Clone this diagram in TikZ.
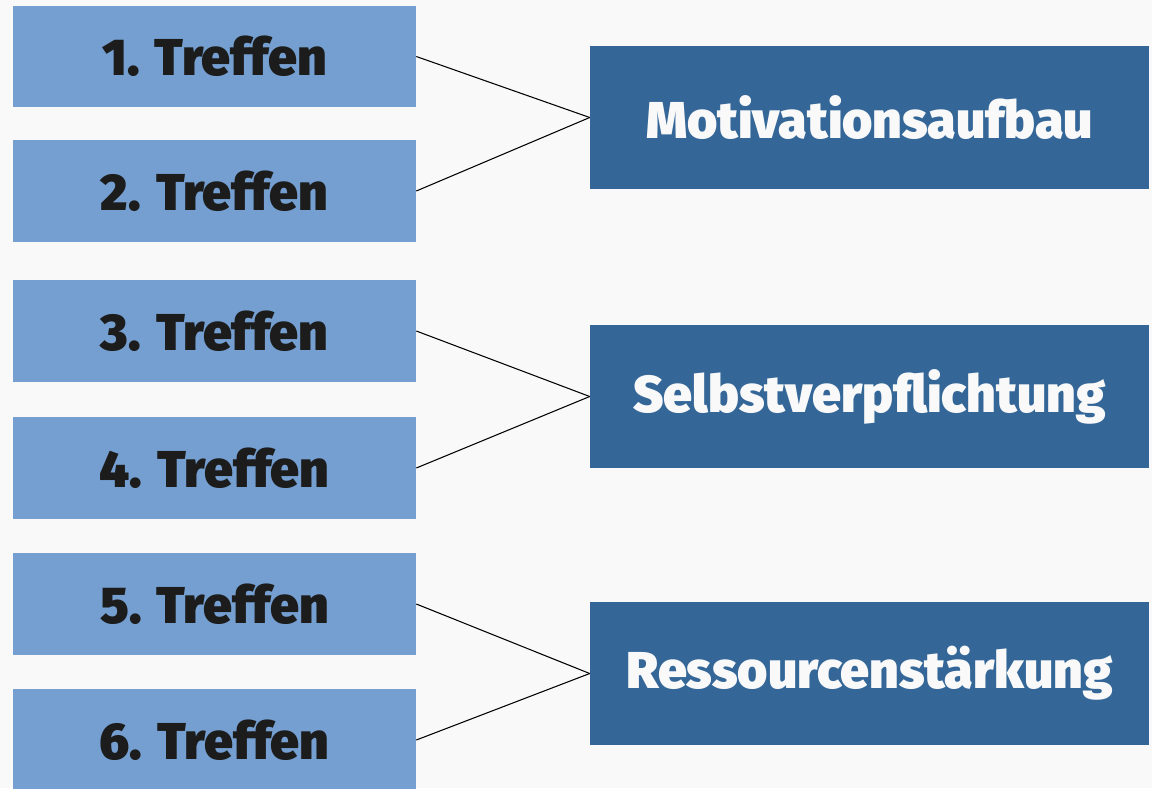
\documentclass[tikz,border=0pt]{standalone}
\usepackage{fontspec}
\setmainfont{Fira Sans}[BoldFont={Fira Sans Black}]
\definecolor{treffenblue}{RGB}{116,159,208}
\definecolor{zielblue}{RGB}{52,103,152}
\definecolor{pagegray}{RGB}{249,249,249}
\definecolor{textdark}{RGB}{28,28,28}
\begin{document}
\begin{tikzpicture}[x=0.02cm,y=-0.02cm]

      \fill[pagegray] (0,0) rectangle (1152,788);
      \useasboundingbox (0,0) rectangle (1152,788);

      \begin{scope}[every node/.style={rectangle, fill=treffenblue, inner sep=0pt,
          minimum width=8.06cm, minimum height=2.04cm, text=textdark,
          font=\fontsize{29.5}{32}\selectfont\bfseries}]
        \node (1) at (214.5,56.5) {1. Treffen};
        \node (2) at (214.5,191)  {2. Treffen};
        \node (3) at (214.5,331)  {3. Treffen};
        \node (4) at (214.5,468)  {4. Treffen};
        \node (5) at (214.5,604)  {5. Treffen};
        \node (6) at (214.5,740)  {6. Treffen};
      \end{scope}

      \begin{scope}[every node/.style={rectangle, fill=zielblue, inner sep=0pt,
          minimum width=11.18cm, minimum height=2.86cm, text=pagegray,
          font=\fontsize{29.5}{32}\selectfont\bfseries}]
        \node (m) at (869.5,117.5) {Motivationsaufbau};
        \node (s) at (869.5,396.5) {Selbstverpflichtung};
        \node (r) at (869.5,673.5) {Ressourcenstärkung};
      \end{scope}

      \begin{scope}[every edge/.style={draw, black, line width=0.6pt}]
        \path (1.east) edge (m.west);
        \path (2.east) edge (m.west);
        \path (3.east) edge (s.west);
        \path (4.east) edge (s.west);
        \path (5.east) edge (r.west);
        \path (6.east) edge (r.west);
      \end{scope}

    \end{tikzpicture}
\end{document}
